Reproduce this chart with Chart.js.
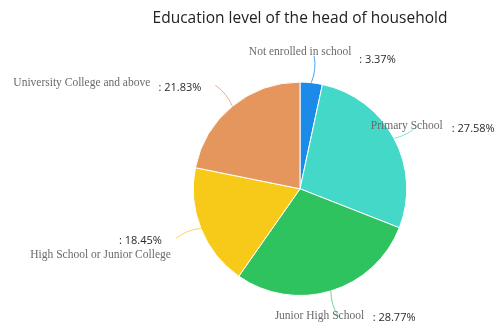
<!DOCTYPE html>
<html lang="en">
<head>
    <meta charset="UTF-8">
    <script src="https://cdn.jsdelivr.net/npm/chart.js@4.4.0/dist/chart.umd.min.js"></script>
    <title>Education level</title>
    <style>
        html, body { margin: 0; padding: 0; background: #fff; }
        #wrap { width: 494px; height: 329px; }
    </style>
</head>
<body>
<div id="wrap"><canvas id="container"></canvas></div>

<script>
    const categories = [
        'Not enrolled in school',
        'Primary School',
        'Junior High School',
        'High School or Junior College',
        'University College and above'
    ];
    const shares = [3.37, 27.58, 28.77, 18.45, 21.83];
    const sliceColors = ['#1b8ae8', '#43d8c8', '#2ec35e', '#f7c918', '#e5965c'];
    const lineColors = ['#4aa3f0', '#7ee5da', '#6fd893', '#f9d65a', '#eab089'];

    // where the name and the value sit, relative to the end of each leader line
    const labelLayout = [
        {name: [-14, -4, 'center'], value: [45, 4, 'left']},
        {name: [-47, 0, 'left'], value: [34, 3, 'left']},
        {name: [-64, -1, 'left'], value: [34, 1, 'left']},
        {name: [-5, 17, 'right'], value: [-14, 2, 'right']},
        {name: [-65, -2, 'right'], value: [-14, 3, 'right']}
    ];

    const outsideLabels = {
        id: 'outsideLabels',
        afterDatasetsDraw(chart) {
            const ctx = chart.ctx;
            const meta = chart.getDatasetMeta(0);
            meta.data.forEach((arc, i) => {
                const mid = (arc.startAngle + arc.endAngle) / 2;
                const r = arc.outerRadius;
                const cos = Math.cos(mid), sin = Math.sin(mid);
                const x0 = arc.x + cos * r, y0 = arc.y + sin * r;
                const x1 = arc.x + cos * (r + 27), y1 = arc.y + sin * (r + 27);
                const cx = arc.x + cos * (r + 14) - sin * 4;
                const cy = arc.y + sin * (r + 14) + cos * 4;

                ctx.save();
                ctx.strokeStyle = lineColors[i];
                ctx.lineWidth = 1;
                ctx.beginPath();
                ctx.moveTo(x0, y0);
                ctx.quadraticCurveTo(cx, cy, x1, y1);
                ctx.stroke();

                const lay = labelLayout[i];
                ctx.textBaseline = 'middle';
                ctx.font = '11.5px "Liberation Serif", serif';
                ctx.fillStyle = '#6a6a6a';
                ctx.textAlign = lay.name[2];
                ctx.fillText(categories[i], x1 + lay.name[0], y1 + lay.name[1]);

                ctx.font = '11px "Open Sans", sans-serif';
                ctx.fillStyle = '#2a2a2a';
                ctx.textAlign = lay.value[2];
                ctx.fillText(': ' + shares[i].toFixed(2) + '%', x1 + lay.value[0], y1 + lay.value[1]);
                ctx.restore();
            });
        }
    };

    const ctx = document.getElementById('container').getContext('2d');
    const myPieChart = new Chart(ctx, {
        type: 'pie',
        data: {
            labels: categories,
            datasets: [{
                data: shares,
                backgroundColor: sliceColors,
                borderColor: '#ffffff',
                borderWidth: 1
            }]
        },
        options: {
            responsive: true,
            maintainAspectRatio: false,
            animation: false,
            layout: {padding: {left: 106, right: 0, top: 0, bottom: 33}},
            plugins: {
                legend: {display: false},
                tooltip: {enabled: false},
                title: {
                    display: true,
                    text: 'Education level of the head of household',
                    color: '#222222',
                    font: {family: '"Open Sans", sans-serif', size: 15.5, weight: 'normal'},
                    padding: {top: 9, bottom: 54}
                }
            }
        },
        plugins: [outsideLabels]
    });
</script>
</body>
</html>
